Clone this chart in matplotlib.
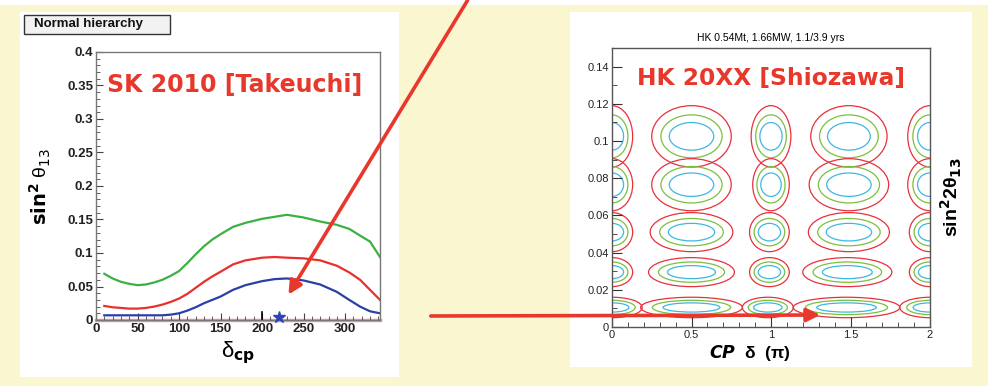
import matplotlib
matplotlib.use("Agg")
import matplotlib.pyplot as plt
from matplotlib.patches import Ellipse, Rectangle, FancyArrowPatch
from matplotlib.ticker import MultipleLocator, FuncFormatter

plt.rcParams["font.family"] = ["Liberation Sans", "DejaVu Sans"]

W, H = 988, 386
cream = "#faf6cf"
red = "#e8382c"

# --- SK 2010 sensitivity curves (sin^2 theta13 vs delta_cp) ---
delta_cp = [10, 20, 30, 40, 50, 60, 70, 80, 90, 100, 110, 120, 130, 140, 150,
            165, 180, 200, 215, 230, 250, 270, 290, 305, 318, 330, 342]
sk_green = [0.069, 0.062, 0.057, 0.054, 0.052, 0.053, 0.056, 0.060, 0.066, 0.073,
            0.085, 0.098, 0.110, 0.120, 0.128, 0.139, 0.145, 0.151, 0.154, 0.157,
            0.153, 0.147, 0.142, 0.136, 0.126, 0.117, 0.094]
sk_red = [0.021, 0.019, 0.018, 0.017, 0.017, 0.018, 0.020, 0.023, 0.027, 0.032,
          0.039, 0.048, 0.057, 0.065, 0.072, 0.083, 0.089, 0.093, 0.094, 0.093,
          0.092, 0.089, 0.081, 0.071, 0.060, 0.045, 0.030]
sk_blue = [0.007, 0.007, 0.007, 0.007, 0.007, 0.007, 0.007, 0.007, 0.008, 0.010,
           0.014, 0.019, 0.025, 0.030, 0.035, 0.045, 0.052, 0.058, 0.061, 0.062,
           0.059, 0.053, 0.042, 0.030, 0.020, 0.013, 0.010]
best_fit_delta = 220
true_delta = 200

# --- HK allowed islands (CP delta in units of pi, sin^2 2theta13) ---
# outer (red) contour centre and half-sizes of each island
isl_cx = [0.0, 0.5, 1.0, 1.49, 2.0,
          0.0, 0.5, 1.0, 1.49, 2.0,
          0.0, 0.5, 0.99, 1.49, 2.0,
          0.0, 0.5, 0.99, 1.48, 2.0,
          0.0, 0.5, 0.98, 1.475, 2.0]
isl_cy = [0.1025] * 5 + [0.0765] * 5 + [0.051] * 5 + [0.0295] * 5 + [0.0105] * 5
isl_rx = [0.13, 0.25, 0.125, 0.24, 0.14,
          0.13, 0.25, 0.115, 0.25, 0.14,
          0.13, 0.26, 0.125, 0.255, 0.13,
          0.13, 0.27, 0.125, 0.28, 0.13,
          0.19, 0.32, 0.16, 0.335, 0.19]
isl_ry = [0.0165] * 5 + [0.014] * 5 + [0.0105] * 5 + [0.0078] * 5 + [0.0055] * 5
# inner contours as fractions of the outer one
level_colors = ["#e8303c", "#7cbf3c", "#3db8e0"]
level_fx = [1.0, 0.77, 0.56]
level_fy = [1.0, 0.70, 0.45]


def fig_box(x0, y0, x1, y1):
    # pixel box (top-left origin) -> figure fraction rect
    return [x0 / W, 1 - y1 / H, (x1 - x0) / W, (y1 - y0) / H]


def fig_pt(x, y):
    return (x / W, 1 - y / H)


fig = plt.figure(figsize=(W / 100, H / 100), dpi=100, facecolor=cream)

# white strip on top and two white panels
for box in [(0, 0, W, 5), (20, 12, 399, 377), (570, 12, 972, 367)]:
    x, y, w, h = fig_box(*box)
    fig.add_artist(Rectangle((x, y), w, h, transform=fig.transFigure,
                             facecolor="white", edgecolor="none", zorder=-2))

# ---------------- left panel ----------------
axL = fig.add_axes(fig_box(96, 52, 380, 320))
axL.plot(delta_cp, sk_green, color="#3cb043", lw=1.6)
axL.plot(delta_cp, sk_red, color="#e8302c", lw=1.6)
axL.plot(delta_cp, sk_blue, color="#2a3fa8", lw=1.6)
axL.axhline(0, color="#f29a9a", lw=2.5, clip_on=False, zorder=1)
axL.plot([true_delta, true_delta], [0, 0.012], color="k", lw=1.2)
axL.plot(best_fit_delta, 0.004, marker="*", ms=9, color="#2a45b5",
         clip_on=False, zorder=5)
axL.set_xlim(0, 342)
axL.set_ylim(0, 0.4)
axL.xaxis.set_major_locator(MultipleLocator(50))
axL.xaxis.set_minor_locator(MultipleLocator(10))
axL.yaxis.set_major_locator(MultipleLocator(0.05))
axL.yaxis.set_minor_locator(MultipleLocator(0.01))
fmt = FuncFormatter(lambda v, p: "%g" % round(v, 4))
axL.xaxis.set_major_formatter(fmt)
axL.yaxis.set_major_formatter(fmt)
axL.tick_params(which="both", direction="in", colors="#444444",
                labelcolor="#222222", labelsize=9.5, pad=2)
axL.tick_params(which="major", length=5)
axL.tick_params(which="minor", length=3)
for lab in axL.get_xticklabels() + axL.get_yticklabels():
    lab.set_fontweight("bold")
for s in axL.spines.values():
    s.set_color("#777777")
    s.set_linewidth(1.0)
axL.text(0.039, 0.877, "SK 2010 [Takeuchi]", transform=axL.transAxes,
         color=red, fontsize=17, fontweight="bold", family="DejaVu Sans",
         va="center")
axL.set_xlabel("δ$_{\\mathbf{cp}}$", fontsize=16, labelpad=3)
fig.text(*fig_pt(40, 186), "$\\mathbf{sin^2}$ θ$_{13}$", rotation=90,
         fontsize=14, ha="center", va="center")

# "Normal hierarchy" legend box
x, y, w, h = fig_box(24, 15, 170, 34)
fig.add_artist(Rectangle((x, y), w, h, transform=fig.transFigure,
                         facecolor="#f2f2f2", edgecolor="#333333", lw=1.0))
fig.text(*fig_pt(34, 24.5), "Normal hierarchy", fontsize=9.5,
         fontweight="bold", va="center", ha="left", color="#111111")

# ---------------- right panel ----------------
axR = fig.add_axes(fig_box(612, 48, 930, 327))
for cx, cy, rx, ry in zip(isl_cx, isl_cy, isl_rx, isl_ry):
    for col, fx, fy in zip(level_colors, level_fx, level_fy):
        axR.add_patch(Ellipse((cx, cy), 2 * rx * fx, 2 * ry * fy,
                              facecolor="none", edgecolor=col, lw=0.9))
axR.set_xlim(0, 2)
axR.set_ylim(0, 0.15)
axR.xaxis.set_major_locator(MultipleLocator(0.5))
axR.xaxis.set_minor_locator(MultipleLocator(0.1))
axR.yaxis.set_major_locator(MultipleLocator(0.02))
axR.yaxis.set_minor_locator(MultipleLocator(0.01))
axR.xaxis.set_major_formatter(fmt)
axR.yaxis.set_major_formatter(fmt)
axR.tick_params(which="both", direction="in", colors="#333333",
                labelcolor="#222222", labelsize=8, pad=2)
axR.tick_params(which="major", length=7)
axR.tick_params(which="minor", length=3.5)
for s in axR.spines.values():
    s.set_color("#555555")
    s.set_linewidth(1.0)
axR.set_title("HK 0.54Mt, 1.66MW, 1.1/3.9 yrs", fontsize=7.5, pad=5)
axR.text(0.079, 0.892, "HK 20XX [Shiozawa]", transform=axR.transAxes,
         color=red, fontsize=16.8, fontweight="bold", family="DejaVu Sans",
         va="center")
axR.text(0.434, -0.093, "$\\boldsymbol{CP}$  δ  (π)", fontweight="bold",
         transform=axR.transAxes, fontsize=12.5, ha="center", va="center")
fig.text(*fig_pt(951, 197), "sin$^\\mathbf{2}$2θ$_\\mathbf{13}$",
         fontweight="bold", rotation=90, fontsize=14, ha="center", va="center")

# ---------------- pointer arrows ----------------
for start, end in [((469, -2), (287, 297)), ((428, 316), (823, 315))]:
    fig.add_artist(FancyArrowPatch(fig_pt(*start), fig_pt(*end),
                                   transform=fig.transFigure, arrowstyle="-|>",
                                   mutation_scale=20, lw=2.6, color=red,
                                   zorder=10))

fig.savefig("out.png", dpi=100, facecolor=cream)
